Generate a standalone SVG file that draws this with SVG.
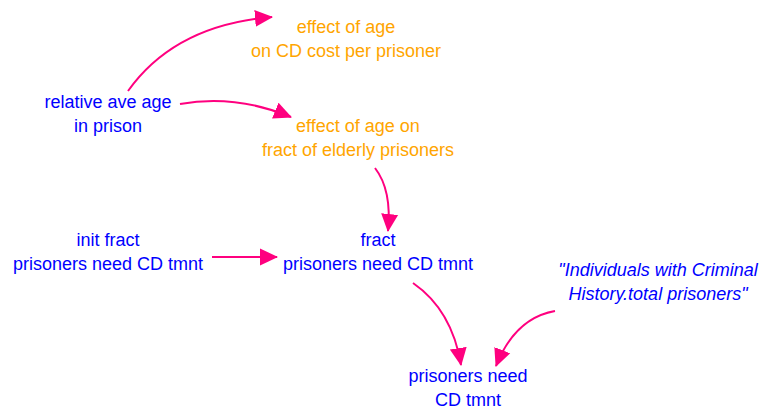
<svg xmlns="http://www.w3.org/2000/svg" width="760" height="410" viewBox="0 0 760 410">
  <style>
    text { font-family: "Liberation Sans", Arial, sans-serif; font-size: 18px; text-anchor: middle; }
    .var { fill: #0000ff; }
    .aux { fill: #ffa500; }
    .ext { fill: #0000ff; font-style: italic; }
    .link { fill: none; stroke: #ff007f; stroke-width: 2; marker-end: url(#head); }
  </style>
  <defs>
    <marker id="head" markerUnits="userSpaceOnUse" markerWidth="18" markerHeight="18" refX="17" refY="9" orient="auto">
      <path d="M0,0.5 L18,9 L0,17.5 z" fill="#ff007f"/>
    </marker>
  </defs>
  <rect width="760" height="410" fill="#ffffff"/>

  <g id="connectors">
    <path class="link" d="M128,91 Q175,25 272,17"/>
    <path class="link" d="M180,104 Q235,94 291,117"/>
    <path class="link" d="M375,168 Q392,190 388,231"/>
    <path class="link" d="M212,257 L277,257"/>
    <path class="link" d="M413,283 Q452,310 461,365"/>
    <path class="link" d="M555,311 Q515,318 496,366"/>
  </g>

  <g id="effect-age-cost">
    <text class="aux" x="346" y="33">effect of age</text>
    <text class="aux" x="346" y="57">on CD cost per prisoner</text>
  </g>
  <g id="relative-ave-age">
    <text class="var" x="108" y="108">relative ave age</text>
    <text class="var" x="108" y="132">in prison</text>
  </g>
  <g id="effect-age-elderly">
    <text class="aux" x="358" y="132">effect of age on</text>
    <text class="aux" x="358" y="156">fract of elderly prisoners</text>
  </g>
  <g id="init-fract">
    <text class="var" x="108" y="246">init fract</text>
    <text class="var" x="108" y="270">prisoners need CD tmnt</text>
  </g>
  <g id="fract">
    <text class="var" x="378" y="246">fract</text>
    <text class="var" x="378" y="270">prisoners need CD tmnt</text>
  </g>
  <g id="total-prisoners">
    <text class="ext" x="658" y="276">"Individuals with Criminal</text>
    <text class="ext" x="658" y="300">History.total prisoners"</text>
  </g>
  <g id="prisoners-need">
    <text class="var" x="468" y="382">prisoners need</text>
    <text class="var" x="468" y="406">CD tmnt</text>
  </g>
</svg>
